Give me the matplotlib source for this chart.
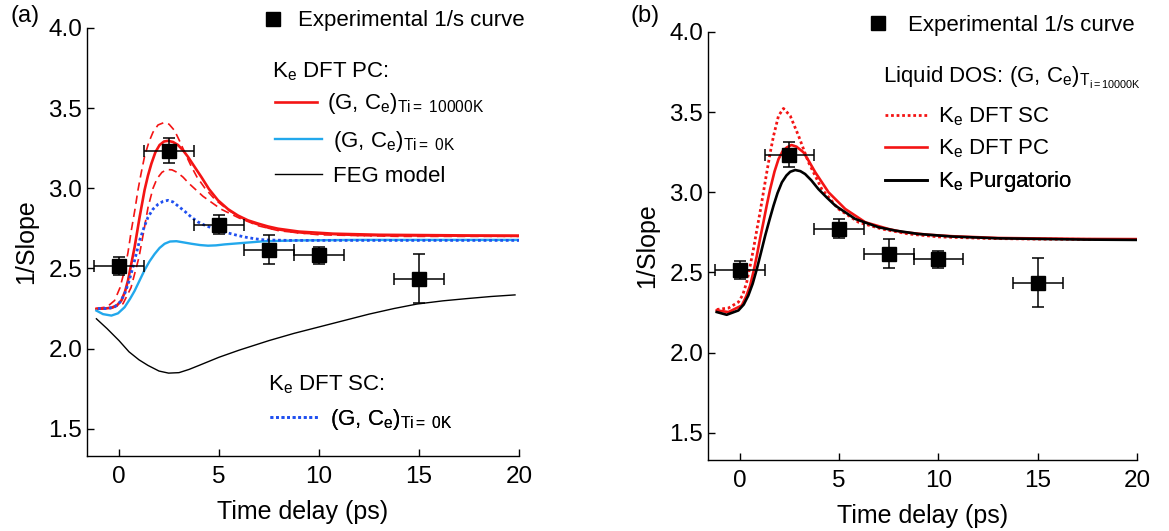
import matplotlib
matplotlib.use("Agg")
import matplotlib.pyplot as plt

plt.rcParams["font.family"] = ["Liberation Sans", "DejaVu Sans"]
plt.rcParams["mathtext.fontset"] = "custom"
plt.rcParams["mathtext.rm"] = "Liberation Sans"
plt.rcParams["mathtext.it"] = "Liberation Sans:italic"

# experimental points (same in both panels)
exp_t = [0, 2.5, 5, 7.5, 10, 15]
exp_y = [2.516, 3.235, 2.774, 2.617, 2.583, 2.437]
exp_yerr = [0.055, 0.077, 0.057, 0.09, 0.053, 0.155]
exp_terr = [1.25, 1.25, 1.25, 1.25, 1.25, 1.25]

# panel (a): K_e DFT PC, (G, Ce) Ti=10000K
pc_hot_t = [-1.13, -0.7, -0.38, -0.1, 0.12, 0.3, 0.45, 0.6, 0.78, 1.03, 1.28, 1.45, 1.62, 1.82,
            2.03, 2.25, 2.45, 2.7, 2.95, 3.2, 3.45, 3.8, 4.12, 4.5, 4.95, 5.45, 5.95, 6.45, 6.95,
            7.45, 7.95, 9, 10.7, 13, 17.4, 20]
pc_hot_y = [2.248, 2.25, 2.255, 2.27, 2.30, 2.355, 2.425, 2.52, 2.633, 2.82, 2.99, 3.08, 3.154, 3.225,
            3.27, 3.292, 3.296, 3.289, 3.27, 3.237, 3.196, 3.13, 3.07, 2.995, 2.925, 2.87, 2.83, 2.80,
            2.78, 2.762, 2.748, 2.73, 2.717, 2.71, 2.706, 2.705]
# dashed bounds around it
pc_up_t = [-1.13, -0.6, -0.22, 0.05, 0.28, 0.45, 0.62, 0.8, 0.95, 1.1, 1.28, 1.5, 1.7, 1.95, 2.25,
           2.5, 2.78, 3.05, 3.3, 3.6, 3.9, 4.3, 4.8, 5.5, 6.5, 7.5, 9, 12, 20]
pc_up_y = [2.25, 2.26, 2.30, 2.38, 2.49, 2.60, 2.74, 2.87, 2.99, 3.09, 3.20, 3.29, 3.35, 3.395, 3.41,
           3.40, 3.36, 3.29, 3.22, 3.14, 3.07, 3.0, 2.93, 2.86, 2.79, 2.75, 2.72, 2.705, 2.70]
pc_lo_t = [-1.13, -0.4, 0.2, 0.6, 1.0, 1.25, 1.45, 1.7, 1.9, 2.15, 2.4, 2.65, 2.9, 3.2, 3.5, 4.2,
           5.1, 6.0, 7.0, 8.0, 10, 14, 20]
pc_lo_y = [2.25, 2.25, 2.28, 2.38, 2.57, 2.74, 2.88, 3.00, 3.06, 3.10, 3.117, 3.115, 3.10, 3.07, 3.03,
           2.95, 2.87, 2.815, 2.765, 2.735, 2.71, 2.70, 2.70]
# K_e DFT PC, Ti=0K
pc_cold_t = [-1.13, -0.8, -0.38, -0.05, 0.28, 0.55, 0.78, 1.03, 1.28, 1.53, 1.78, 2.03, 2.28, 2.55,
             2.87, 3.25, 3.62, 4.05, 4.45, 4.85, 5.28, 6.28, 7.28, 9, 12, 16, 20]
pc_cold_y = [2.237, 2.215, 2.206, 2.22, 2.258, 2.31, 2.36, 2.425, 2.49, 2.545, 2.59, 2.628, 2.654, 2.668,
             2.67, 2.662, 2.654, 2.646, 2.642, 2.644, 2.65, 2.66, 2.67, 2.675, 2.678, 2.678, 2.678]
# FEG model
feg_t = [-1.13, -0.6, 0, 0.5, 1.0, 1.45, 2.0, 2.48, 3.0, 3.5, 4.0, 5.0, 6.0, 7.5, 8.75, 10, 11.25,
         12.5, 13.75, 14.9, 16.2, 17.4, 18.6, 19.8]
feg_y = [2.186, 2.125, 2.05, 1.98, 1.93, 1.895, 1.86, 1.847, 1.85, 1.87, 1.895, 1.946, 1.99, 2.05,
         2.095, 2.135, 2.175, 2.215, 2.25, 2.278, 2.298, 2.312, 2.325, 2.335]
# K_e DFT SC, Ti=0K
sc_cold_t = [-1.05, -0.6, -0.22, 0.05, 0.28, 0.5, 0.7, 0.87, 1.03, 1.25, 1.45, 1.7, 1.95, 2.2, 2.45,
             2.7, 2.95, 3.3, 3.62, 3.95, 4.28, 4.8, 5.28, 5.8, 6.28, 6.8, 7.28, 8.5, 11, 15, 20]
sc_cold_y = [2.25, 2.25, 2.26, 2.29, 2.34, 2.42, 2.51, 2.595, 2.675, 2.755, 2.82, 2.87, 2.90, 2.918, 2.925,
             2.915, 2.89, 2.855, 2.82, 2.79, 2.77, 2.745, 2.727, 2.71, 2.696, 2.685, 2.678, 2.675, 2.675,
             2.675, 2.675]

# panel (b): liquid DOS
liq_sc_t = [-1.16, -0.57, -0.07, 0.15, 0.35, 0.52, 0.69, 0.85, 1.02, 1.19, 1.36, 1.53, 1.70, 1.95, 2.2,
            2.54, 2.96, 3.46, 4.13, 4.97, 5.98, 7.16, 8.5, 10, 12.5, 15, 20]
liq_sc_y = [2.269, 2.278, 2.315, 2.36, 2.44, 2.54, 2.647, 2.76, 2.875, 3.0, 3.125, 3.245, 3.352, 3.477,
            3.523, 3.477, 3.352, 3.187, 3.02, 2.896, 2.813, 2.771, 2.74, 2.722, 2.712, 2.708, 2.705]
liq_pc_t = [-1.16, -0.57, 0.1, 0.32, 0.52, 0.7, 0.86, 1.02, 1.19, 1.36, 1.53, 1.75, 1.95, 2.15, 2.37,
            2.6, 2.85, 3.21, 3.5, 3.8, 4.47, 5.31, 6.32, 7.49, 8.2, 9.5, 10.7, 13, 17.4, 20]
liq_pc_y = [2.263, 2.253, 2.294, 2.35, 2.418, 2.51, 2.605, 2.71, 2.813, 2.92, 3.02, 3.13, 3.207, 3.255,
            3.28, 3.295, 3.285, 3.249, 3.19, 3.125, 3.0, 2.896, 2.813, 2.771, 2.752, 2.735, 2.726,
            2.715, 2.709, 2.708]
purg_t = [-1.16, -0.66, -0.07, 0.2, 0.43, 0.65, 0.86, 1.07, 1.28, 1.5, 1.70, 1.9, 2.12, 2.35, 2.54,
          2.79, 3.05, 3.29, 3.6, 3.96, 4.4, 4.81, 5.81, 6.99, 7.83, 9, 10.7, 13, 17.4, 20]
purg_y = [2.253, 2.236, 2.263, 2.3, 2.356, 2.43, 2.522, 2.625, 2.73, 2.83, 2.917, 2.995, 3.062, 3.105,
          3.128, 3.139, 3.132, 3.114, 3.075, 3.02, 2.965, 2.917, 2.834, 2.782, 2.761, 2.74, 2.724,
          2.713, 2.705, 2.703]

xticks = [0, 5, 10, 15, 20]
yticks = [1.5, 2.0, 2.5, 3.0, 3.5, 4.0]

RED = "#f41414"
LBLUE = "#22a8ec"
BLUE = "#2050f0"
TFS = 17.5   # tick labels
AFS = 18     # axis labels
LFS = 16     # legend text
W, H = 1169, 531

fig = plt.figure(figsize=(W / 100, H / 100), dpi=100)
# axes boxes in pixels: left, top, right, bottom
box_a = (87, 28, 519, 456)
box_b = (708, 32, 1137, 460)
ax1 = fig.add_axes([box_a[0] / W, 1 - box_a[3] / H, (box_a[2] - box_a[0]) / W, (box_a[3] - box_a[1]) / H])
ax2 = fig.add_axes([box_b[0] / W, 1 - box_b[3] / H, (box_b[2] - box_b[0]) / W, (box_b[3] - box_b[1]) / H])


def style(ax):
    ax.set_xlim(-1.6, 20)
    ax.set_ylim(1.33, 4.0)
    ax.set_xticks(xticks)
    ax.set_yticks(yticks)
    ax.set_yticklabels([f"{v:.1f}" for v in yticks])
    for s in ["top", "right"]:
        ax.spines[s].set_visible(False)
    for s in ["left", "bottom"]:
        ax.spines[s].set_linewidth(1.0)
    ax.tick_params(direction="in", length=5, width=1.0, labelsize=TFS)
    ax.tick_params(axis="x", pad=7)
    ax.tick_params(axis="y", pad=3.5)
    ax.set_xlabel("Time delay (ps)", fontsize=AFS, labelpad=9)
    ax.set_ylabel("1/Slope", fontsize=AFS, labelpad=7)


def experiment(ax):
    ax.errorbar(exp_t, exp_y, xerr=exp_terr, yerr=exp_yerr, fmt="none", ecolor="black",
                elinewidth=1.1, capsize=4, capthick=1.1, zorder=5)
    sq, = ax.plot(exp_t, exp_y, "s", color="black", ms=10, zorder=6,
                  label="Experimental 1/s curve")
    return sq


def entry(ax, box, h, x_left, x_text, y_px, handle_px):
    # one legend row: handle starts at x_left px, text starts at x_text px, centred on y_px
    em = LFS * 100 / 72
    hl = handle_px / em
    pad = (x_text - x_left - handle_px) / em
    fx = (x_left - box[0]) / (box[2] - box[0])
    fy = (box[3] - y_px) / (box[3] - box[1])
    lg = ax.legend(handles=[h], loc="center left", bbox_to_anchor=(fx, fy), frameon=False,
                   fontsize=LFS, borderpad=0, borderaxespad=0, handlelength=hl,
                   handletextpad=pad)
    ax.add_artist(lg)


def heading(ax, box, s, x_px, base_px):
    ax.text((x_px - box[0]) / (box[2] - box[0]), (box[3] - base_px) / (box[3] - box[1]), s,
            transform=ax.transAxes, fontsize=LFS, va="baseline", ha="left")


# ---- panel (a)
style(ax1)
ax1.plot(pc_up_t, pc_up_y, color=RED, lw=1.2, ls=(0, (5, 3)))
ax1.plot(pc_lo_t, pc_lo_y, color=RED, lw=1.2, ls=(0, (5, 3)))
l_hot, = ax1.plot(pc_hot_t, pc_hot_y, color=RED, lw=1.9,
                  label=r"(G, C$_\mathrm{e}$)$_\mathrm{Ti=\ 10000K}$")
l_cold, = ax1.plot(pc_cold_t, pc_cold_y, color=LBLUE, lw=1.7,
                   label=r"(G, C$_\mathrm{e}$)$_\mathrm{Ti=\ 0K}$")
l_feg, = ax1.plot(feg_t, feg_y, color="black", lw=1.0, label="FEG model")
l_sc, = ax1.plot(sc_cold_t, sc_cold_y, color=BLUE, lw=2.0, ls=(0, (1, 1)),
                 label=r"(G, C$_\mathrm{e}$)$_\mathrm{Ti=\ 0K}$")
sq1 = experiment(ax1)

entry(ax1, box_a, sq1, 264, 298, 21, 17)
heading(ax1, box_a, r"K$_\mathrm{e}$ DFT PC:", 272, 77)
entry(ax1, box_a, l_hot, 275, 327, 104, 42)
entry(ax1, box_a, l_cold, 275, 333, 141, 47)
entry(ax1, box_a, l_feg, 275, 333, 176, 47)
heading(ax1, box_a, r"K$_\mathrm{e}$ DFT SC:", 268, 390)
entry(ax1, box_a, l_sc, 270, 330, 419, 48)

# ---- panel (b)
style(ax2)
b_sc, = ax2.plot(liq_sc_t, liq_sc_y, color=RED, lw=2.0, ls=(0, (1, 1)), label=r"K$_\mathrm{e}$ DFT SC")
b_pc, = ax2.plot(liq_pc_t, liq_pc_y, color=RED, lw=1.9, label=r"K$_\mathrm{e}$ DFT PC")
b_pu, = ax2.plot(purg_t, purg_y, color="black", lw=1.9, label=r"K$_\mathrm{e}$ Purgatorio")
sq2 = experiment(ax2)

entry(ax2, box_b, sq2, 869, 908, 25, 17)
heading(ax2, box_b, r"Liquid DOS: (G, C$_\mathrm{e}$)$_\mathrm{T_{i=10000K}}$", 883, 83)
entry(ax2, box_b, b_sc, 885, 938, 117, 42)
entry(ax2, box_b, b_pc, 885, 938, 149, 42)
entry(ax2, box_b, b_pu, 885, 938, 182, 42)

fig.text(10 / W, 1 - 16 / H, "(a)", fontsize=17, va="center")
fig.text(631 / W, 1 - 16 / H, "(b)", fontsize=17, va="center")

fig.savefig("out.png", dpi=100)
